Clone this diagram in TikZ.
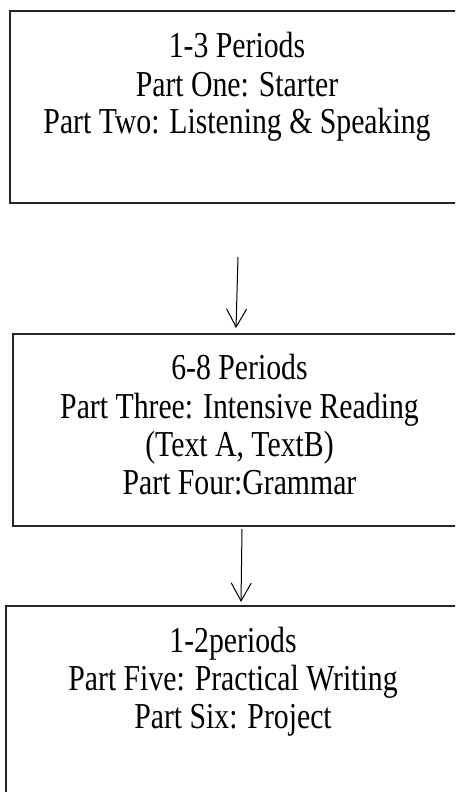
\documentclass[tikz,border=0pt]{standalone}
\usepackage{fontspec}
\setmainfont{Liberation Serif}[FakeStretch=0.815]
\usetikzlibrary{arrows.meta}
\begin{document}
\begin{tikzpicture}[x=1pt,y=-1pt,
  frame/.style={draw=black!85,line width=1.4pt,rectangle,inner sep=0pt},
  txt/.style={anchor=base,inner sep=0pt,font=\fontsize{36.5}{38}\selectfont},
  flow/.style={draw=black,line width=1pt,-{Straight Barb[length=18pt,width=20pt,line width=1pt]}}]
\useasboundingbox (0,0) rectangle (455,792);
\clip (0,0) rectangle (455,792);
\fill[white] (0,0) rectangle (455,792);
% boxes
\node[frame,minimum width=454pt,minimum height=192pt] (b1) at (237,107) {};
\node[frame,minimum width=453pt,minimum height=192pt] (b2) at (239.5,430) {};
\node[frame,minimum width=454pt,minimum height=220pt] (b3) at (233,716) {};
% texts
\node[txt] (t11) at (237,57) {1-3 Periods};
\node[txt] (t12) at (237,96) {Part One: Starter};
\node[txt] (t13) at (237,133) {Part Two: Listening \& Speaking};
\node[txt] (t21) at (239.5,379) {6-8 Periods};
\node[txt] (t22) at (239.5,418) {Part Three: Intensive Reading};
\node[txt] (t23) at (239.5,456) {(Text A, TextB)};
\node[txt] (t24) at (239.5,494) {Part Four:Grammar};
\node[txt] (t31) at (233,652) {1-2periods};
\node[txt] (t32) at (233,690) {Part Five: Practical Writing};
\node[txt] (t33) at (233,728) {Part Six: Project};
% arrows
\coordinate (a1s) at (238,257);
\coordinate (a1e) at (236,328);
\coordinate (a2s) at (242,529);
\coordinate (a2e) at (241,602);
\draw[flow] (a1s) -- (a1e);
\draw[flow] (a2s) -- (a2e);
\end{tikzpicture}
\end{document}
